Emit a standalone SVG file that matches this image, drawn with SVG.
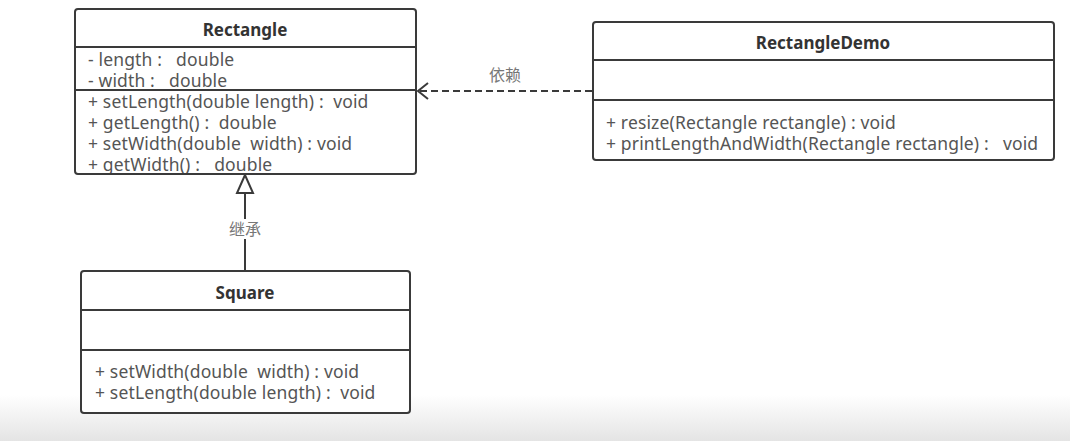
<svg xmlns="http://www.w3.org/2000/svg" width="1070" height="441" viewBox="0 0 1070 441">
<defs>
<linearGradient id="bg" x1="0" y1="0" x2="0" y2="1">
<stop offset="0" stop-color="#ffffff"/>
<stop offset="1" stop-color="#e4e4e4"/>
</linearGradient>
<style>
.box{fill:#fff;stroke:#3a3a3a;stroke-width:2}
.sep{stroke:#3a3a3a;stroke-width:2}
.title{font-family:"Noto Sans","Noto Sans CJK SC",sans-serif;font-size:17px;font-weight:bold;fill:#333;text-anchor:middle}
.mem{font-family:"Noto Sans","Noto Sans CJK SC",sans-serif;font-size:17.5px;letter-spacing:0.15px;fill:#555}
.lbl{font-family:"Noto Sans CJK SC",sans-serif;font-size:16px;fill:#777;text-anchor:middle}
.edge{stroke:#3a3a3a;stroke-width:2;fill:none}
</style>
<clipPath id="clipRect"><rect x="75" y="9" width="341" height="164"/></clipPath>
</defs>
<rect x="0" y="0" width="1070" height="441" fill="#fff"/>
<rect x="0" y="395" width="1070" height="46" fill="url(#bg)"/>

<g id="connectors">
<line class="edge" x1="245" y1="271" x2="245" y2="193"/>
<polygon points="245,175 237,193 253,193" fill="#fff" stroke="#3a3a3a" stroke-width="2"/>
<rect x="224" y="219" width="42" height="20" fill="#fff"/>
<text class="lbl" x="245" y="235">继承</text>
<line class="edge" x1="592" y1="91" x2="420" y2="91" stroke-dasharray="7,4"/>
<polyline class="edge" points="428,83 418,91 428,99"/>
<text class="lbl" x="505" y="81">依赖</text>
</g>

<g id="Rectangle">
<rect class="box" x="75" y="9" width="341" height="165" rx="3"/>
<line class="sep" x1="75" y1="47" x2="416" y2="47"/>
<line class="sep" x1="75" y1="90" x2="416" y2="90"/>
<text class="title" x="245" y="36">Rectangle</text>
<g clip-path="url(#clipRect)">
<text class="mem" x="88" y="66" xml:space="preserve">- length :   double</text>
<text class="mem" x="88" y="87" xml:space="preserve">- width :   double</text>
<text class="mem" x="88" y="108" xml:space="preserve">+ setLength(double length) :  void</text>
<text class="mem" x="88" y="129" xml:space="preserve">+ getLength() :  double</text>
<text class="mem" x="88" y="150" xml:space="preserve">+ setWidth(double  width) : void</text>
<text class="mem" x="88" y="171" xml:space="preserve">+ getWidth() :   double</text>
</g>
</g>

<g id="RectangleDemo">
<rect class="box" x="593" y="22" width="461" height="138" rx="3"/>
<line class="sep" x1="593" y1="60" x2="1054" y2="60"/>
<line class="sep" x1="593" y1="100" x2="1054" y2="100"/>
<text class="title" x="823" y="49">RectangleDemo</text>
<text class="mem" x="606" y="129" xml:space="preserve">+ resize(Rectangle rectangle) : void</text>
<text class="mem" x="606" y="150" xml:space="preserve">+ printLengthAndWidth(Rectangle rectangle) :   void</text>
</g>

<g id="Square">
<rect class="box" x="81" y="271" width="329" height="142" rx="3"/>
<line class="sep" x1="81" y1="310" x2="410" y2="310"/>
<line class="sep" x1="81" y1="350" x2="410" y2="350"/>
<text class="title" x="245" y="299">Square</text>
<text class="mem" x="95" y="378" xml:space="preserve">+ setWidth(double  width) : void</text>
<text class="mem" x="95" y="399" xml:space="preserve">+ setLength(double length) :  void</text>
</g>
</svg>
